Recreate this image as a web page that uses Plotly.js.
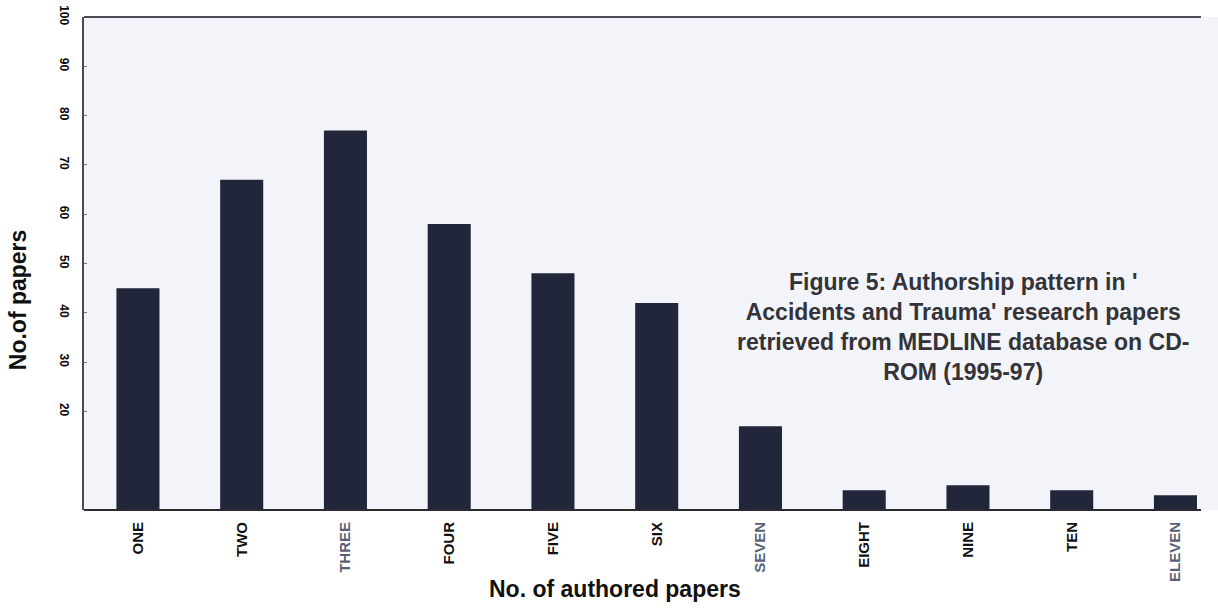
<!DOCTYPE html>
<html>
<head>
<meta charset="utf-8">
<script src="https://cdn.plot.ly/plotly-3.0.1.min.js"></script>
<style>html,body{margin:0;padding:0;background:#ffffff;}#chart{width:1218px;height:608px;}</style>
</head>
<body>
<div id="chart"></div>
<script>
const categories = ["ONE","TWO","THREE","FOUR","FIVE","SIX","SEVEN","EIGHT","NINE","TEN","ELEVEN"];
const papers = [45, 67, 77, 58, 48, 42, 17, 4, 5, 4, 3];
const tickLabelColors = ["#111","#111","#5a5f78","#111","#111","#111","#5a5f78","#111","#111","#111","#5a5f78"];
const yTicks = [20, 30, 40, 50, 60, 70, 80, 90, 100];
const xTitle = "No. of authored papers";
const yTitle = "No.of papers";
const figureNote = "Figure 5: Authorship pattern in '<br>Accidents and Trauma' research papers<br>retrieved from MEDLINE database on CD-<br>ROM (1995-97)";

const ticktext = categories.map((c, i) => '<span style="color:' + tickLabelColors[i] + '">' + c + '</span>');

const trace = {
  type: 'bar',
  x: categories,
  y: papers,
  marker: {color: '#22263a', line: {width: 0}},
  hoverinfo: 'x+y'
};

const layout = {
  width: 1218, height: 608,
  margin: {l: 84, r: 0, t: 17, b: 98},
  paper_bgcolor: '#ffffff',
  plot_bgcolor: '#f3f4fa',
  bargap: 0.585,
  showlegend: false,
  font: {family: 'Liberation Sans, Arial, sans-serif', color: '#111'},
  xaxis: {
    type: 'category',
    range: [-0.52, 10.41],
    tickvals: categories,
    ticktext: ticktext,
    tickangle: -90,
    tickfont: {size: 15, family: 'Liberation Sans, Arial, sans-serif', weight: 'bold', color: '#111'},
    ticklabelstandoff: 8,
    showline: false,
    ticks: '', showgrid: false, zeroline: false,
    fixedrange: true
  },
  yaxis: {
    range: [0, 100],
    tickvals: yTicks,
    tickangle: 90,
    tickfont: {size: 12, family: 'Liberation Sans, Arial, sans-serif', weight: 'bold', color: '#0a0a0a'},
    showline: true, linecolor: '#4a4a55', linewidth: 2,
    ticks: 'inside', ticklen: 3, tickcolor: '#777',
    ticklabelstandoff: 8,
    showgrid: false, zeroline: false,
    fixedrange: true
  },
  shapes: [
    {type: 'line', xref: 'paper', yref: 'paper', x0: 0, x1: 0.985, y0: 1, y1: 1,
     line: {color: '#4a4a55', width: 2}},
    {type: 'line', xref: 'paper', yref: 'paper', x0: 0, x1: 0.985, y0: 0, y1: 0,
     line: {color: '#2a2a30', width: 2}}
  ],
  annotations: [
    {text: '<b>' + xTitle + '</b>', xref: 'paper', yref: 'paper', x: 0.468, y: -0.16,
     xanchor: 'center', yanchor: 'middle', showarrow: false,
     font: {size: 23, color: '#111'}},
    {text: '<b>' + yTitle + '</b>', xref: 'paper', yref: 'paper', x: -0.058, y: 0.426,
     xanchor: 'center', yanchor: 'middle', showarrow: false, textangle: -90,
     font: {size: 23, color: '#111'}},
    {text: '<b>' + figureNote + '</b>', xref: 'paper', yref: 'paper', x: 0.775, y: 0.371,
     xanchor: 'center', yanchor: 'middle', showarrow: false, align: 'center',
     font: {size: 23, color: '#333338'}}
  ]
};

Plotly.newPlot('chart', [trace], layout, {displayModeBar: false, staticPlot: true});
</script>
</body>
</html>
